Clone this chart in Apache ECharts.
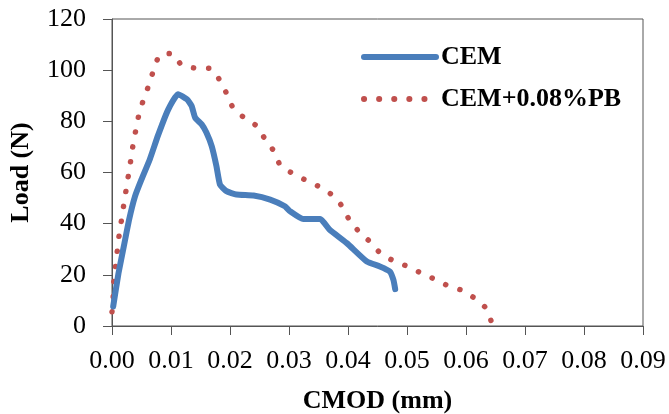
<!DOCTYPE html>
<html>
<head>
<meta charset="utf-8">
<script src="https://cdn.jsdelivr.net/npm/echarts@6/dist/echarts.min.js"></script>
<style>
  html, body { margin: 0; padding: 0; background: #fff; }
  #chart { width: 669px; height: 414px; }
</style>
</head>
<body>
<div id="chart"></div>
<script>
// series names
const seriesNames = ['CEM', 'CEM+0.08%PB']

// CEM curve [CMOD (mm), Load (N)]
const cemData = [
  [0.0002, 7.6], [0.0011, 20.6], [0.002, 31.1], [0.0029, 41.6], [0.0039, 50.7],
  [0.005, 57.3], [0.0064, 65.1], [0.0078, 74.5], [0.0095, 84.5], [0.0112, 90.6],
  [0.0127, 88.6], [0.0135, 86], [0.0141, 81.4], [0.0152, 78.8], [0.016, 75.6],
  [0.0169, 70.3], [0.0177, 62.5], [0.0183, 55.3], [0.0194, 52.7], [0.0211, 51.4],
  [0.024, 51], [0.0268, 49.4], [0.0293, 46.8], [0.0302, 44.8], [0.0324, 41.8],
  [0.0353, 41.8], [0.0369, 37.6], [0.0398, 32.4], [0.0432, 25.2], [0.0454, 23.3],
  [0.0471, 21.3], [0.0477, 18], [0.048, 14.4]
]

// CEM+0.08%PB curve [CMOD (mm), Load (N)]
const pbData = [
  [0, 5.6], [0.0002, 11.5], [0.0003, 17.4], [0.0006, 23.3], [0.0009, 29.5],
  [0.0012, 35.4], [0.0016, 41.3], [0.002, 47.5], [0.0024, 53.3], [0.0028, 59.2],
  [0.0032, 65.1], [0.0036, 71.3], [0.0041, 77.3], [0.0046, 83], [0.0054, 88.9],
  [0.0063, 94.5], [0.0071, 100.4], [0.0081, 105.9], [0.0102, 106.5], [0.0118, 102],
  [0.0142, 100.8], [0.0167, 100.7], [0.0182, 96.3], [0.0194, 91], [0.0205, 85.4],
  [0.0224, 81.4], [0.0245, 78.2], [0.0259, 73.2], [0.0275, 68.1], [0.0285, 62.9],
  [0.0303, 60.1], [0.0326, 57.3], [0.035, 54.6], [0.0372, 51.4], [0.0389, 47.1],
  [0.0402, 41.6], [0.0417, 37.3], [0.0437, 33], [0.0454, 28.7], [0.0476, 25.6],
  [0.05, 23.4], [0.0523, 20.8], [0.0547, 18.3], [0.057, 15.7], [0.0595, 13.8],
  [0.0616, 10.6], [0.0635, 6.7], [0.0644, 0.8]
]

// axis ranges
const xRange = { min: 0, max: 0.09, step: 0.01 }
const yRange = { min: 0, max: 120, step: 20 }

const FONT = '"Liberation Serif", "Times New Roman", serif'
const blue = '#4a7ebb'
const red = '#c0504d'
const axisColor = '#555'

const chart = echarts.init(document.getElementById('chart'))

chart.setOption({
  animation: false,
  grid: {
    left: 112,
    right: 26,
    top: 19,
    bottom: 88,
    outerBoundsMode: 'none',
    containLabel: false,
    show: true,
    borderColor: axisColor,
    borderWidth: 1
  },
  legend: {
    orient: 'vertical',
    left: 361,
    top: 44,
    padding: 0,
    itemWidth: 72,
    itemHeight: 26,
    itemGap: 16,
    textStyle: {
      fontFamily: FONT,
      fontSize: 26,
      fontWeight: 'bold',
      color: '#000',
      lineHeight: 26
    },
    itemStyle: { opacity: 0 },
    lineStyle: { width: 6 },
    data: seriesNames
  },
  xAxis: {
    type: 'value',
    min: xRange.min,
    max: xRange.max,
    interval: xRange.step,
    name: 'CMOD (mm)',
    nameLocation: 'middle',
    nameGap: 62,
    nameTextStyle: {
      fontFamily: FONT,
      fontSize: 26,
      fontWeight: 'bold',
      color: '#000'
    },
    axisLine: { show: true, onZero: false, lineStyle: { color: axisColor, width: 1 } },
    axisTick: { show: true, inside: false, length: 9, lineStyle: { color: axisColor } },
    axisLabel: {
      margin: 22,
      fontFamily: FONT,
      fontSize: 26,
      color: '#000',
      formatter: v => v.toFixed(2)
    },
    splitLine: { show: false }
  },
  yAxis: {
    type: 'value',
    min: yRange.min,
    max: yRange.max,
    interval: yRange.step,
    name: 'Load (N)',
    nameLocation: 'middle',
    nameGap: 78,
    nameTextStyle: {
      fontFamily: FONT,
      fontSize: 26,
      fontWeight: 'bold',
      color: '#000'
    },
    axisLine: { show: true, lineStyle: { color: axisColor, width: 1 } },
    axisTick: { show: true, inside: false, length: 9, lineStyle: { color: axisColor } },
    axisLabel: {
      margin: 26,
      fontFamily: FONT,
      fontSize: 26,
      color: '#000'
    },
    splitLine: { show: false }
  },
  series: [
    {
      name: seriesNames[0],
      type: 'line',
      data: cemData,
      showSymbol: false,
      symbol: 'none',
      smooth: 0.15,
      lineStyle: { color: blue, width: 6, cap: 'round', join: 'round' },
      itemStyle: { color: blue },
      z: 3
    },
    {
      name: seriesNames[1],
      type: 'line',
      data: pbData,
      showSymbol: false,
      symbol: 'none',
      smooth: 0.2,
      lineStyle: { color: red, width: 5.5, type: [0.1, 15], cap: 'round', join: 'round' },
      itemStyle: { color: red },
      z: 2
    }
  ]
})
</script>
</body>
</html>
